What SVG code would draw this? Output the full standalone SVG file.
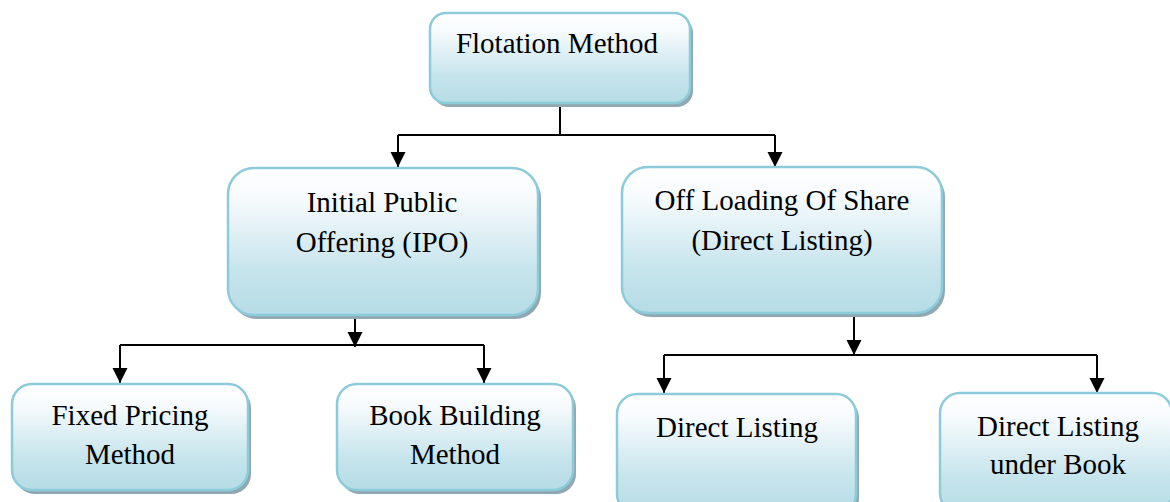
<svg xmlns="http://www.w3.org/2000/svg" width="1170" height="502" viewBox="0 0 1170 502">
  <style>
    .box { fill: url(#boxFill); stroke: #8ccbd9; stroke-width: 2.5; }
    .shadow { fill: #8fa8b2; }
    .label { font-family: "Liberation Serif", "Times New Roman", serif; font-size: 29px; fill: #000; text-anchor: middle; }
    .wire { fill: none; stroke: #000; stroke-width: 2; }
  </style>
  <defs>
    <linearGradient id="boxFill" x1="0" y1="0" x2="0" y2="1">
      <stop offset="0" stop-color="#ffffff"/>
      <stop offset="0.2" stop-color="#f7fbfd"/>
      <stop offset="0.7" stop-color="#c6e4ec"/>
      <stop offset="1" stop-color="#b6dce6"/>
    </linearGradient>
    <marker id="arrow" markerUnits="userSpaceOnUse" markerWidth="16" markerHeight="16" refX="15" refY="7.5" orient="auto">
      <path d="M0,0 L15,7.5 L0,15 z" fill="#000"/>
    </marker>
  </defs>

  <rect width="1170" height="502" fill="#ffffff"/>

  <!-- connectors -->
  <g id="connectors">
    <path class="wire" d="M560,104 V135"/>
    <path class="wire" d="M398,135 H775"/>
    <path class="wire" d="M398,135 V167" marker-end="url(#arrow)"/>
    <path class="wire" d="M775,135 V167" marker-end="url(#arrow)"/>

    <path class="wire" d="M355,318 V347" marker-end="url(#arrow)"/>
    <path class="wire" d="M120,345 H484"/>
    <path class="wire" d="M120,345 V383" marker-end="url(#arrow)"/>
    <path class="wire" d="M484,345 V383" marker-end="url(#arrow)"/>

    <path class="wire" d="M854,316 V355" marker-end="url(#arrow)"/>
    <path class="wire" d="M664,355 H1097"/>
    <path class="wire" d="M664,355 V393" marker-end="url(#arrow)"/>
    <path class="wire" d="M1097,355 V393" marker-end="url(#arrow)"/>
  </g>

  <!-- root -->
  <g id="flotation">
    <rect class="shadow" x="433" y="17" width="260" height="90" rx="16"/>
    <rect class="box" x="430" y="13" width="260" height="90" rx="16"/>
    <text class="label" x="557" y="53">Flotation Method</text>
  </g>

  <!-- second level -->
  <g id="ipo">
    <rect class="shadow" x="231" y="172" width="310" height="147" rx="26"/>
    <rect class="box" x="228" y="168" width="310" height="147" rx="26"/>
    <text class="label" x="382" y="212">Initial Public</text>
    <text class="label" x="382" y="252">Offering (IPO)</text>
  </g>

  <g id="offloading">
    <rect class="shadow" x="625" y="171" width="320" height="146" rx="26"/>
    <rect class="box" x="622" y="167" width="320" height="146" rx="26"/>
    <text class="label" x="782" y="210">Off Loading Of Share</text>
    <text class="label" x="782" y="250">(Direct Listing)</text>
  </g>

  <!-- third level -->
  <g id="fixed-pricing">
    <rect class="shadow" x="15" y="388" width="236" height="106" rx="20"/>
    <rect class="box" x="12" y="384" width="236" height="106" rx="20"/>
    <text class="label" x="130" y="425">Fixed Pricing</text>
    <text class="label" x="130" y="464">Method</text>
  </g>

  <g id="book-building">
    <rect class="shadow" x="340" y="388" width="236" height="106" rx="20"/>
    <rect class="box" x="337" y="384" width="236" height="106" rx="20"/>
    <text class="label" x="455" y="425">Book Building</text>
    <text class="label" x="455" y="464">Method</text>
  </g>

  <g id="direct-listing">
    <rect class="shadow" x="620" y="398" width="239" height="120" rx="20"/>
    <rect class="box" x="617" y="394" width="239" height="120" rx="20"/>
    <text class="label" x="737" y="437">Direct Listing</text>
  </g>

  <g id="direct-listing-book">
    <rect class="shadow" x="943" y="397" width="232" height="120" rx="20"/>
    <rect class="box" x="940" y="393" width="232" height="120" rx="20"/>
    <text class="label" x="1058" y="436">Direct Listing</text>
    <text class="label" x="1058" y="474">under Book</text>
  </g>
</svg>
